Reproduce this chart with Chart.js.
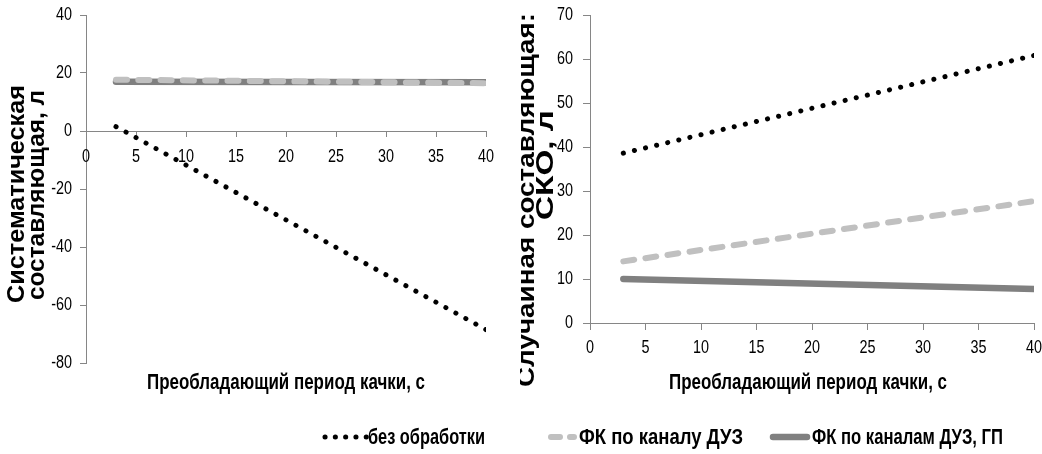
<!DOCTYPE html>
<html><head><meta charset="utf-8">
<script src="https://cdn.jsdelivr.net/npm/chart.js@4.4.0/dist/chart.umd.min.js"></script>
<style>
body{margin:0;background:#fff;width:1042px;height:454px;overflow:hidden;position:relative;font-family:"Liberation Sans",Arial,sans-serif;}
#w1{position:absolute;left:0;top:0;width:520px;height:400px}
#w2{position:absolute;left:520px;top:0;width:522px;height:400px}
.legs{position:absolute;top:431px;}
.legt{position:absolute;top:424px;font-weight:bold;font-size:22px;line-height:26px;color:#000;white-space:nowrap;transform-origin:0 50%;}
</style></head><body>
<div id="w1"><canvas id="c1"></canvas></div>
<div id="w2"><canvas id="c2"></canvas></div>
<div id="legend"></div>
<script>
// ---- data ----
const periods = [3, 40];
const sysRaw = [1.5, -68.5];
const sysDUZ = [17.7, 16.5];
const sysDUZGP = [17.0, 16.8];
const rndRaw = [38.6, 60.8];
const rndDUZ = [14.0, 27.7];
const rndDUZGP = [10.0, 7.7];
const seriesNames = ['без обработки', 'ФК по каналу ДУЗ', 'ФК по каналам ДУЗ, ГП'];
const xTickValues = [0, 5, 10, 15, 20, 25, 30, 35, 40];
const ySysTickValues = [-80, -60, -40, -20, 0, 20, 40];
const yRndTickValues = [0, 10, 20, 30, 40, 50, 60, 70];
const xTitle = 'Преобладающий период качки, с';
const ySysTitle = ['Систематическая', 'составляющая, л'];
const yRndTitle = ['Случайная составляющая:', 'СКО, л'];

// ---- styles ----
const FONT = '"Liberation Sans",Arial,sans-serif';
const NARROW_X = 0.8;
const AXIS = '#868686';
const styles = [
  {borderColor:'#000', borderWidth:5, borderDash:[0.1, 11.3], borderCapStyle:'round'},
  {borderColor:'#c0c0c0', borderWidth:6, borderDash:[11, 11.3], borderCapStyle:'round'},
  {borderColor:'#808080', borderWidth:6.5, borderDash:[], borderCapStyle:'round'}
];
function pts(ys){ return periods.map((x,i)=>({x, y: ys[i]})); }
function datasets(arrs){
  return arrs.map((a,i)=>Object.assign({label: seriesNames[i], data: pts(a), pointRadius:0, pointHoverRadius:0, tension:0, fill:false}, styles[i]));
}
function fitText(ctx, text, x, y, targetW, rot){
  const w = ctx.measureText(text).width;
  ctx.save(); ctx.translate(x, y); if (rot) ctx.rotate(-Math.PI/2);
  ctx.scale(targetW / w, 1); ctx.fillText(text, 0, 0); ctx.restore();
}
const textPlugin = {
  id:'textPlugin',
  afterDraw(chart, args, o){
    const ctx = chart.ctx, xs = chart.scales.x, ys = chart.scales.y;
    ctx.save(); ctx.fillStyle = '#000';
    // tick labels (narrow)
    ctx.font = '18px ' + FONT; ctx.textBaseline = 'middle';
    const axisY = ys.getPixelForValue(0);
    ctx.textAlign = 'center';
    xTickValues.forEach(v => { ctx.save(); ctx.translate(xs.getPixelForValue(v), axisY + o.xOff); ctx.scale(NARROW_X,1); ctx.fillText(String(v),0,0); ctx.restore(); });
    ctx.textAlign = 'right';
    o.yVals.forEach(v => { ctx.save(); ctx.translate(chart.chartArea.left - o.yOff, ys.getPixelForValue(v)); ctx.scale(NARROW_X,1); ctx.fillText(String(v),0,0); ctx.restore(); });
    // axis titles
    ctx.textAlign = 'center';
    ctx.font = 'bold 22px ' + FONT;
    fitText(ctx, o.x.text, o.x.cx, o.x.cy, o.x.w, false);
    ctx.font = 'bold 23px ' + FONT;
    o.y.forEach(l => fitText(ctx, l.text, l.cx, l.cy, l.w, true));
    ctx.restore();
  }
};
function xScale(pos, tickLen){
  return {type:'linear', position: pos, min: xTickValues[0], max: xTickValues[xTickValues.length-1],
    afterBuildTicks: s => { s.ticks = xTickValues.map(v=>({value:v})); },
    grid:{display:true, drawOnChartArea:false, drawTicks:true, tickLength:tickLen, color:AXIS, tickColor:AXIS},
    border:{display:true, color:AXIS, width:1},
    ticks:{display:false}};
}
function yScale(vals, width, tickLen){
  return {type:'linear', min: vals[0], max: vals[vals.length-1],
    afterBuildTicks: s => { s.ticks = vals.map(v=>({value:v})); },
    afterFit: s => { s.width = width; },
    grid:{display:true, drawOnChartArea:false, drawTicks:true, tickLength:tickLen, color:AXIS, tickColor:AXIS},
    border:{display:true, color:AXIS, width:1},
    ticks:{display:false}};
}
const common = {responsive:true, maintainAspectRatio:false, animation:false, events:[]};

new Chart(document.getElementById('c1'), {
  type:'line',
  data:{datasets: datasets([sysRaw, sysDUZ, sysDUZGP])},
  options: Object.assign({}, common, {
    layout:{padding:{top:15, right:34, bottom:37, left:0}},
    scales:{ x: xScale({y:0}, 5), y: yScale(ySysTickValues, 86, 6) },
    plugins:{legend:{display:false}, tooltip:{enabled:false}, textPlugin:{
      xOff:26, yOff:14, yVals:ySysTickValues,
      x:{text:xTitle, cx:286, cy:383, w:278},
      y:[{text:ySysTitle[0], cx:18, cy:194, w:218},{text:ySysTitle[1], cx:38, cy:195, w:210}]}}
  }),
  plugins:[textPlugin]
});

const xs2 = xScale('bottom', 7);
xs2.afterFit = s => { s.height = 77; };
new Chart(document.getElementById('c2'), {
  type:'line',
  data:{datasets: datasets([rndRaw, rndDUZ, rndDUZGP])},
  options: Object.assign({}, common, {
    layout:{padding:{top:15, right:8, bottom:0, left:0}},
    scales:{ x: xs2, y: yScale(yRndTickValues, 70, 7) },
    plugins:{legend:{display:false}, tooltip:{enabled:false}, textPlugin:{
      xOff:25, yOff:17, yVals:yRndTickValues,
      x:{text:xTitle, cx:288, cy:383, w:278},
      y:[{text:yRndTitle[0], cx:8, cy:200, w:374},{text:yRndTitle[1], cx:27, cy:165, w:110}]}}
  }),
  plugins:[textPlugin]
});

// ---- HTML legend ----
const legendSample = [[322, 48], [545, 34], [767, 46]];
const legendTextX = [368, 579, 812];
const legendTextW = [117, 164, 191];
const leg = document.getElementById('legend');
seriesNames.forEach((name, i) => {
  const cv = document.createElement('canvas'); cv.className = 'legs';
  cv.width = legendSample[i][1]; cv.height = 12; cv.style.left = legendSample[i][0] + 'px';
  const c = cv.getContext('2d'); const st = styles[i];
  c.strokeStyle = st.borderColor; c.lineWidth = st.borderWidth; c.lineCap = 'round';
  c.beginPath();
  if (i === 0) { c.setLineDash([0.1, 10.2]); c.moveTo(3, 6); c.lineTo(46, 6); }
  else if (i === 1) { c.setLineDash([9, 10]); c.moveTo(6, 6); c.lineTo(29, 6); }
  else { c.moveTo(6, 6); c.lineTo(40, 6); }
  c.stroke();
  leg.appendChild(cv);
  const sp = document.createElement('div'); sp.className = 'legt'; sp.textContent = name;
  sp.style.left = legendTextX[i] + 'px';
  leg.appendChild(sp);
  const w = sp.getBoundingClientRect().width;
  sp.style.transform = 'scaleX(' + (legendTextW[i] / w) + ')';
});
</script>
</body></html>
